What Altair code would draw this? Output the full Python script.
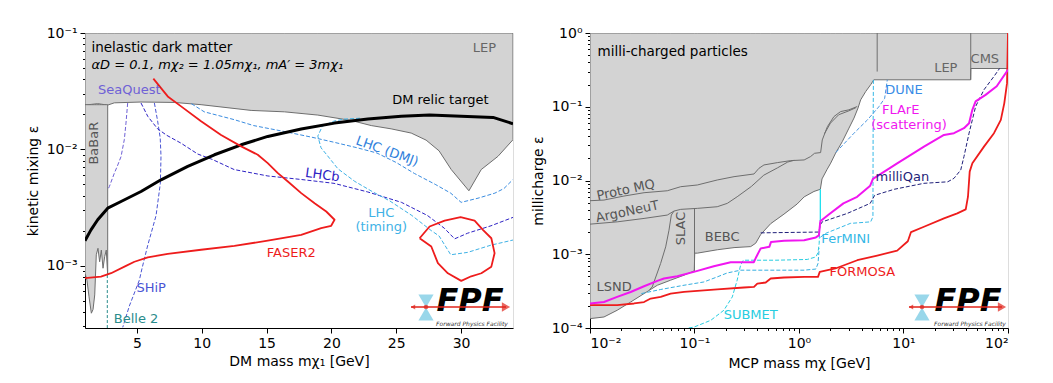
import altair as alt
import pandas as pd

FONT = "DejaVu Sans"
FILL = "#d3d3d3"
EDGE = "#6e6e6e"

# ======================= LEFT PANEL: inelastic dark matter =======================
L_X_DOMAIN = [1.0, 34.0]
L_Y_DOMAIN = [2.91e-4, 0.1]

LEP_X = [1.0, 1.98, 2.75, 3.26, 5.32, 7.89, 9.95, 13.81, 16.38, 18.95, 21.52, 23.07, 24.6,
         26.15, 27.3, 28.3, 29.24, 30.6, 31.55, 32.84, 34.0]
LEP_Y = [0.0240, 0.0247, 0.0240, 0.0251, 0.0255, 0.0253, 0.0242, 0.0216, 0.0210, 0.0197, 0.0177,
         0.0160, 0.0150, 0.0138, 0.0120, 0.0097, 0.0067, 0.0044, 0.0067, 0.0087, 0.0121]

BABAR_X = [1.0, 1.15, 1.31, 1.49, 1.62, 1.75, 1.87, 2.0, 2.13, 2.26, 2.39, 2.52, 2.64, 2.75]
BABAR_LO = [8.6e-4, 7.5e-4, 5.4e-4, 3.9e-4, 4.2e-4, 5.6e-4, 1.24e-3, 1.41e-3, 1.08e-3, 1.36e-3,
            9.5e-4, 1.2e-3, 1.36e-3, 8.3e-4]
BABAR_HI = 0.0242

RELIC_X = [1.0, 1.46, 1.98, 2.75, 3.78, 5.32, 6.86, 8.92, 10.98, 13.04, 15.09, 17.67, 20.24,
           22.81, 25.38, 27.57, 30.0, 32.46, 34.0]
RELIC_Y = [1.64e-3, 2.03e-3, 2.48e-3, 3.12e-3, 3.56e-3, 4.34e-3, 5.47e-3, 7.13e-3, 8.98e-3,
           0.01094, 0.01291, 0.01493, 0.0168, 0.0182, 0.0192, 0.0197, 0.0192, 0.0188, 0.0166]

FASER2_X = [6.27, 7.38, 8.41, 9.95, 11.49, 13.04, 14.32, 15.09, 15.87, 16.64, 17.67, 18.70, 19.60,
            20.24, 19.98, 19.21, 17.67, 15.09, 12.52, 9.95, 7.38, 5.84, 4.81, 4.16, 3.01, 2.23, 1.0]
FASER2_Y = [0.0405, 0.0285, 0.0234, 0.0174, 0.0133, 0.0106, 0.00898, 0.0076, 0.00624, 0.00529,
            0.0042, 0.00344, 0.00292, 0.00248, 0.0022, 0.0021, 0.00184, 0.00164, 0.00148, 0.00137,
            0.00126, 0.00118, 0.00108, 0.000995, 0.000861, 0.000806, 0.00078]

FASER2B_X = [26.8, 27.57, 28.73, 29.96, 31.04, 31.68, 32.33, 32.58, 32.33, 31.56, 30.78, 30.01,
             28.98, 28.21, 27.7, 26.8]
FASER2B_Y = [0.00172, 0.00217, 0.00244, 0.00261, 0.00244, 0.00203, 0.00172, 0.00128, 0.00098,
             0.00086, 0.00081, 0.00074, 0.00086, 0.00105, 0.00146, 0.00172]

SEAQ_X = [4.29, 4.16, 4.03, 3.78, 3.5, 3.26, 2.88, 2.75]
SEAQ_Y = [0.025, 0.0168, 0.0121, 0.00867, 0.0072, 0.00623, 0.00479, 0.00448]

SHIP_X = [6.35, 6.6, 6.8, 6.86, 6.81, 6.48, 6.1, 5.84, 5.4, 5.19, 4.42, 3.91]
SHIP_Y = [0.025, 0.0175, 0.0125, 0.0087, 0.0051, 0.0027, 0.0019, 0.0015, 0.00095, 0.00075,
          0.00045, 0.000295]

LHCB_X = [5.32, 5.84, 6.6, 7.3, 8.4, 9.7, 10.8, 12.5, 15.1, 17.7, 20.2, 22.8, 25.4, 27.4, 28.7,
          29.5, 30.5, 32.3, 34.0]
LHCB_Y = [0.025, 0.0192, 0.015, 0.0132, 0.0113, 0.0091, 0.0082, 0.0067, 0.0059, 0.0055, 0.0051,
          0.0043, 0.0035, 0.0027, 0.0021, 0.0017, 0.0019, 0.0022, 0.0026]

DMJ_X = [9.2, 10.2, 12.5, 14.0, 16.4, 18.5, 20.2, 22.0, 23.5, 25.0, 26.4, 28.0, 29.2, 30.0, 31.3,
         32.6, 33.3, 34.0]
DMJ_Y = [0.0247, 0.021, 0.018, 0.016, 0.0142, 0.0127, 0.0115, 0.0103, 0.0093, 0.0077, 0.0062,
         0.005, 0.0042, 0.0035, 0.0038, 0.0042, 0.0046, 0.0055]

TIMING_X = [22.2, 21.0, 20.2, 19.3, 18.95, 19.2, 19.7, 20.5, 21.8, 23.2, 24.5, 26.2, 27.7, 28.3,
            29.2, 30.5, 32.3, 34.0]
TIMING_Y = [0.0185, 0.0182, 0.0175, 0.0158, 0.013, 0.0103, 0.0088, 0.0068, 0.0053, 0.0043,
            0.0036, 0.0027, 0.0020, 0.0018, 0.00124, 0.0013, 0.0015, 0.00166]

BELLE2_X = [2.72, 2.72]
BELLE2_Y = [8.3e-4, 2.91e-4]

# label anchors (data coordinates)
L_LBL_X = {"title": 1.5, "params": 1.5, "LEP": 31.8, "SeaQuest": 4.42, "relic": 28.4,
           "BaBaR": 1.67, "DMJ": 24.3, "LHCb": 19.3, "LHC": 23.84, "timing": 23.84,
           "FASER2": 16.9, "SHiP": 6.1, "Belle 2": 4.94}
L_LBL_Y = {"title": 0.0743, "params": 0.0533, "LEP": 0.0743, "SeaQuest": 0.0321, "relic": 0.0267,
           "BaBaR": 0.0113, "DMJ": 0.0096, "LHCb": 0.0060, "LHC": 0.00282, "timing": 0.00213,
           "FASER2": 0.00128, "SHiP": 6.4e-4, "Belle 2": 3.48e-4}

# ======================= RIGHT PANEL: milli-charged particles =======================
R_X_DOMAIN = [0.01, 100.0]
R_Y_DOMAIN = [1e-4, 1.0]

ENV_X = [0.01, 0.0136, 0.0182, 0.0245, 0.0329, 0.0441, 0.0591, 0.0794, 0.0995, 0.1005, 0.1065,
         0.165, 0.239, 0.345, 0.385, 0.43, 0.536, 0.718, 0.96, 1.12, 1.39, 1.6, 1.66, 1.85, 2.01,
         2.24, 2.6, 3.01, 3.36, 3.67, 3.89, 4.35, 4.85, 5.2, 43.9, 44.1, 100.0]
ENV_Y = [1.34e-4, 1.41e-4, 1.74e-4, 2.25e-4, 2.93e-4, 3.8e-4, 4.45e-4, 5.2e-4, 5.96e-4, 1.035e-3,
         1.035e-3, 1.15e-3, 1.23e-3, 1.27e-3, 1.41e-3, 1.85e-3, 2.6e-3, 3.5e-3, 4.8e-3, 6.0e-3,
         7.1e-3, 7.6e-3, 0.0105, 0.014, 0.0172, 0.0235, 0.0338, 0.0514, 0.0703, 0.096, 0.124,
         0.161, 0.199, 0.232, 0.232, 0.33, 0.33]

PMQ_X = [0.01, 0.0136, 0.0211, 0.0329, 0.0549, 0.0738, 0.1064, 0.165, 0.239, 0.371, 0.414, 0.462,
         0.62, 0.833, 1.12, 1.29, 1.41, 1.61, 1.67, 1.87, 2.16, 2.5, 3.0, 3.61]
PMQ_Y = [5.32e-3, 5.43e-3, 6.15e-3, 6.83e-3, 7.26e-3, 8.24e-3, 8.69e-3, 0.01016, 0.01127, 0.01226,
         0.01465, 0.01625, 0.01747, 0.0186, 0.019, 0.0211, 0.0234, 0.0239, 0.0355, 0.0538,
         0.0736, 0.086, 0.0908, 0.1007]

ARG_X = [0.01, 0.0182, 0.0329, 0.0549, 0.0636, 0.0738, 0.1064, 0.165, 0.206, 0.256, 0.35, 0.46,
         0.62, 0.78, 0.9]
ARG_Y = [2.56e-3, 2.75e-3, 3.06e-3, 3.4e-3, 3.85e-3, 4.06e-3, 4.19e-3, 4.41e-3, 4.9e-3, 6.02e-3,
         8.3e-3, 0.0118, 0.0148, 0.0178, 0.0188]

SLIVER_X = [1.75, 2.0, 2.4, 3.0, 3.5]
SLIVER_Y = [0.043, 0.06, 0.078, 0.088, 0.097]

SLACD_X = [0.037, 0.0394, 0.0474, 0.053, 0.057, 0.06, 0.0636]
SLACD_Y = [3.3e-4, 3.6e-4, 7.5e-4, 1.26e-3, 2.12e-3, 3.4e-3, 3.85e-3]
SLACR_X = [0.1, 0.1]
SLACR_Y = [5.96e-4, 4.19e-3]

LEPV_X = [5.6, 5.6]
LEPV_Y = [0.30, 1.0]
CMSV_X = [44.0, 44.0]
CMSV_Y = [0.232, 1.0]

FLARE_X = [0.01, 0.0136, 0.0182, 0.0245, 0.0329, 0.0441, 0.051, 0.0685, 0.0986, 0.153, 0.222,
           0.37, 0.39, 0.43, 0.52, 0.54, 0.72, 1.12, 1.45, 1.55, 1.6, 1.9, 2.66, 3.6, 4.8, 5.1,
           8.7, 12.5, 15.7, 24.4, 30.4, 37.9, 42.4, 45.6, 49.0, 61.0, 78.0, 100.0]
FLARE_Y = [2.15e-4, 2.25e-4, 2.64e-4, 3.08e-4, 3.68e-4, 4.35e-4, 4.69e-4, 5.04e-4, 5.77e-4,
           6.89e-4, 7.81e-4, 7.81e-4, 9.2e-4, 1.2e-3, 1.26e-3, 1.47e-3, 1.52e-3, 1.55e-3, 1.69e-3,
           1.8e-3, 2.8e-3, 3.4e-3, 4.9e-3, 6.0e-3, 8.5e-3, 0.0105, 0.0171, 0.0235, 0.0288, 0.0415,
           0.0438, 0.0512, 0.0598, 0.0908, 0.118, 0.145, 0.19, 0.318]

FORMOSA_X = [0.01, 0.0182, 0.0264, 0.0329, 0.0381, 0.0475, 0.0591, 0.0794, 0.165, 0.297, 0.371,
             0.399, 0.48, 0.536, 0.72, 1.12, 1.52, 1.58, 2.23, 3.61, 5.6, 8.7, 11.0, 11.8, 15.7,
             24.4, 32.7, 39.4, 41.4, 43.0, 45.6, 58.9, 73.4, 85.4, 92.2, 97.9, 100.0]
FORMOSA_Y = [2.04e-4, 2.04e-4, 2.15e-4, 2.25e-4, 2.51e-4, 2.64e-4, 2.93e-4, 3.08e-4, 3.33e-4,
             3.54e-4, 3.6e-4, 4.0e-4, 4.14e-4, 4.69e-4, 4.84e-4, 4.93e-4, 4.93e-4, 5.77e-4,
             6.41e-4, 8.3e-4, 9.6e-4, 1.12e-3, 1.5e-3, 2.0e-3, 2.36e-3, 3.06e-3, 3.58e-3, 4.06e-3,
             6.03e-3, 0.0132, 0.0171, 0.0288, 0.0438, 0.0664, 0.112, 0.209, 1.0]

MQ_X = [0.43, 1.55, 1.6, 1.67, 2.9, 4.8, 5.3, 8.15, 15.7, 26.5, 30.4, 35.3, 37.9, 42.4, 49.0,
        58.9, 73.4, 83.0]
MQ_Y = [1.95e-3, 2.0e-3, 2.5e-3, 2.75e-3, 3.58e-3, 4.9e-3, 6.3e-3, 7.6e-3, 9.16e-3, 9.6e-3,
        0.0107, 0.0139, 0.0211, 0.0438, 0.1007, 0.17, 0.258, 0.33]

DUNE_X = [2.25, 3.36, 4.52, 5.81, 6.6, 7.0]
DUNE_Y = [0.024, 0.0438, 0.0664, 0.1, 0.13, 0.232]

SUBMET_X = [0.088, 0.099, 0.143, 0.191, 0.23, 0.256, 0.276, 0.293, 0.6, 1.2, 1.45, 1.52, 1.56,
            1.58]
SUBMET_Y = [1.0e-4, 1.03e-4, 1.27e-4, 1.74e-4, 2.64e-4, 4.45e-4, 7.1e-4, 8.3e-4, 8.3e-4, 8.5e-4,
            9.2e-4, 1.05e-3, 1.4e-3, 2.9e-3]

FERL_X = [0.031, 0.0475, 0.0794, 0.123, 0.165, 0.206, 0.276, 1.12, 1.45, 1.52, 1.56]
FERL_Y = [2.93e-4, 3.33e-4, 3.8e-4, 4.21e-4, 4.93e-4, 5.58e-4, 6.08e-4, 6.08e-4, 6.3e-4, 7.5e-4,
          1.2e-3]

FERU_X = [1.6, 1.8, 3.1, 4.85, 5.1, 5.12, 5.15]
FERU_Y = [1.7e-3, 1.92e-3, 2.62e-3, 2.75e-3, 3.22e-3, 0.05, 0.232]

FERS_X = [1.6, 1.6]
FERS_Y = [2.9e-3, 7.6e-3]

R_LBL_X = {"title": 0.0118, "Proto MQ": 0.022, "ArgoNeuT": 0.0228, "SLAC": 0.074, "BEBC": 0.184,
           "LSND": 0.017, "LEP": 25.4, "CMS": 60.0, "DUNE": 10.1, "FLArE": 9.4,
           "scattering": 11.3, "milliQan": 9.76, "FerMINI": 2.8, "FORMOSA": 4.04,
           "SUBMET": 0.345}
R_LBL_Y = {"title": 0.55, "Proto MQ": 7.4e-3, "ArgoNeuT": 3.77e-3, "SLAC": 2.24e-3, "BEBC": 1.69e-3,
           "LSND": 3.6e-4, "LEP": 0.334, "CMS": 0.443, "DUNE": 0.17, "FLArE": 0.091,
           "scattering": 0.0568, "milliQan": 0.0113, "FerMINI": 1.6e-3, "FORMOSA": 5.77e-4,
           "SUBMET": 1.49e-4}

# ======================= helpers =======================
SUP = {-4: "⁻⁴", -3: "⁻³", -2: "⁻²", -1: "⁻¹", 0: "⁰", 1: "¹", 2: "²"}
LOG = "(log(datum.value)/LN10)"
LABEL_EXPR = " : ".join(
    f"abs({LOG} - ({e})) < 0.001 ? '10{s}'" for e, s in SUP.items()) + " : ''"
DECADE_TEST = f"abs({LOG} - round({LOG})) < 0.001"


def log_ticks(lo, hi):
    vals = []
    for d in range(lo, hi):
        for m in range(1, 10):
            vals.append(m * 10.0 ** d)
    vals.append(10.0 ** hi)
    return vals


def log_axis(title, lo, hi, keep_min=None):
    vals = log_ticks(lo, hi)
    if keep_min is not None:
        vals = [v for v in vals if v >= keep_min]
    return alt.Axis(title=title, values=vals, labelExpr=LABEL_EXPR, labelOverlap=False,
                    tickSize={"condition": {"test": DECADE_TEST, "value": 5}, "value": 2.5},
                    grid=False, labelFontSize=14, titleFontSize=14, titleFontWeight="normal",
                    tickColor="black", domainColor="black", labelColor="black",
                    titleColor="black", labelPadding=3, titlePadding=6, labelFont=FONT,
                    titleFont=FONT)


def lin_axis(title, values):
    return alt.Axis(title=title, values=values, grid=False, tickSize=5, labelFontSize=14,
                    titleFontSize=14, titleFontWeight="normal", tickColor="black",
                    domainColor="black", labelColor="black", titleColor="black",
                    labelPadding=3, titlePadding=4, labelFont=FONT, titleFont=FONT)


def df_xy(xs, ys):
    return pd.DataFrame({"x": xs, "y": ys, "i": list(range(len(xs)))})


class Panel:
    def __init__(self, X, Y):
        self.X = X
        self.Y = Y
        self.layers = []

    def area(self, xs, lo, hi, fill=FILL, stroke=EDGE):
        d = pd.DataFrame({"x": xs, "y": lo, "y2": hi if isinstance(hi, list) else [hi] * len(xs)})
        self.layers.append(alt.Chart(d).mark_area(color=fill, stroke=stroke, strokeWidth=1,
                                                  clip=True, interpolate="linear")
                           .encode(x=self.X, y=self.Y, y2="y2:Q"))

    def line(self, xs, ys, color, width=1.0, dash=None):
        kw = dict(color=color, strokeWidth=width, clip=True, strokeJoin="round")
        if dash:
            kw["strokeDash"] = dash
        self.layers.append(alt.Chart(df_xy(xs, ys)).mark_line(**kw)
                           .encode(x=self.X, y=self.Y, order="i:Q"))

    def text(self, t, x, y, color, size=13, angle=0, align="center", style="normal"):
        d = pd.DataFrame({"x": [x], "y": [y], "t": [t]})
        self.layers.append(alt.Chart(d).mark_text(color=color, fontSize=size, angle=angle,
                                                  align=align, baseline="middle", font=FONT,
                                                  fontStyle=style)
                           .encode(x=self.X, y=self.Y, text="t:N"))

    def logo(self, cx, a0, a1, bx, yc):
        base = alt.Chart(pd.DataFrame({"k": [0]}))
        red = "#e0241b"
        self.layers += [
            base.mark_point(shape="triangle-down", filled=True, color="#8ed3e8", opacity=0.9,
                            size=230, strokeWidth=0)
                .encode(x=alt.value(bx), y=alt.value(yc - 6)),
            base.mark_point(shape="triangle-up", filled=True, color="#8ed3e8", opacity=0.9,
                            size=230, strokeWidth=0)
                .encode(x=alt.value(bx), y=alt.value(yc + 7)),
            base.mark_text(text="FPF", font=FONT, fontSize=32, fontWeight="bold",
                           fontStyle="italic", color="black", baseline="middle")
                .encode(x=alt.value(cx), y=alt.value(yc - 6)),
            base.mark_text(text="Forward Physics Facility", font=FONT, fontSize=6,
                           fontStyle="italic", color="#333", baseline="middle")
                .encode(x=alt.value(cx + 2), y=alt.value(yc + 17)),
            base.mark_rule(color=red, strokeWidth=1.5)
                .encode(x=alt.value(a0), x2=alt.value(a1 - 4), y=alt.value(yc)),
            base.mark_point(shape="triangle-right", filled=True, color=red, size=90,
                            strokeWidth=0).encode(x=alt.value(a1 - 4), y=alt.value(yc)),
            base.mark_point(shape="triangle-left", filled=True, color=red, size=25,
                            strokeWidth=0).encode(x=alt.value(a0 + 2), y=alt.value(yc)),
            base.mark_point(shape="circle", filled=True, color=red, size=22, strokeWidth=0)
                .encode(x=alt.value(bx), y=alt.value(yc)),
        ]

    def chart(self, w, h):
        return alt.layer(*self.layers).properties(width=w, height=h)


# ======================= build left =======================
XL = alt.X("x:Q", scale=alt.Scale(domain=L_X_DOMAIN, nice=False, zero=False),
           axis=lin_axis("DM mass mχ₁ [GeV]", [5, 10, 15, 20, 25, 30]))
YL = alt.Y("y:Q", scale=alt.Scale(type="log", domain=L_Y_DOMAIN, nice=False),
           axis=log_axis("kinetic mixing ε", -4, -1, keep_min=3e-4))
L = Panel(XL, YL)
L.area(LEP_X, LEP_Y, 0.1)
L.area(BABAR_X, BABAR_LO, BABAR_HI)
L.line(SEAQ_X, SEAQ_Y, "#6f61d6", 1.0, [4, 2])
L.line(SHIP_X, SHIP_Y, "#4a55d4", 1.0, [4, 2])
L.line(LHCB_X, LHCB_Y, "#2d22c4", 1.0, [4, 2])
L.line(DMJ_X, DMJ_Y, "#3a8ce0", 1.0, [4, 2])
L.line(TIMING_X, TIMING_Y, "#3fb2e6", 1.0, [4, 2])
L.line(BELLE2_X, BELLE2_Y, "#2a8c8c", 1.0, [3, 2])
L.line(RELIC_X, RELIC_Y, "black", 3.0)
L.line(FASER2_X, FASER2_Y, "#ee1c1c", 1.8)
L.line(FASER2B_X, FASER2B_Y, "#ee1c1c", 1.8)
L.text("inelastic dark matter", L_LBL_X["title"], L_LBL_Y["title"], "black", 13.5, align="left")
L.text("αD = 0.1, mχ₂ = 1.05mχ₁, mA′ = 3mχ₁", L_LBL_X["params"], L_LBL_Y["params"], "black",
       13, align="left", style="italic")
L.text("LEP", L_LBL_X["LEP"], L_LBL_Y["LEP"], "#666666")
L.text("SeaQuest", L_LBL_X["SeaQuest"], L_LBL_Y["SeaQuest"], "#6f61d6")
L.text("DM relic target", L_LBL_X["relic"], L_LBL_Y["relic"], "black")
L.text("BaBaR", L_LBL_X["BaBaR"], L_LBL_Y["BaBaR"], "#555555", angle=270)
L.text("LHC (DMJ)", L_LBL_X["DMJ"], L_LBL_Y["DMJ"], "#2f7fdc", angle=20)
L.text("LHCb", L_LBL_X["LHCb"], L_LBL_Y["LHCb"], "#2d22c4", angle=8)
L.text("LHC", L_LBL_X["LHC"], L_LBL_Y["LHC"], "#3fb2e6")
L.text("(timing)", L_LBL_X["timing"], L_LBL_Y["timing"], "#3fb2e6")
L.text("FASER2", L_LBL_X["FASER2"], L_LBL_Y["FASER2"], "#ee1c1c")
L.text("SHiP", L_LBL_X["SHiP"], L_LBL_Y["SHiP"], "#4a55d4")
L.text("Belle 2", L_LBL_X["Belle 2"], L_LBL_Y["Belle 2"], "#2a8c8c")
L.logo(385, 326, 425, 341, 274)
left = L.chart(428, 295)

# ======================= build right =======================
XR = alt.X("x:Q", scale=alt.Scale(type="log", domain=R_X_DOMAIN, nice=False),
           axis=log_axis("MCP mass mχ [GeV]", -2, 2))
YR = alt.Y("y:Q", scale=alt.Scale(type="log", domain=R_Y_DOMAIN, nice=False),
           axis=log_axis("millicharge ε", -4, 0))
R = Panel(XR, YR)
R.area(ENV_X, ENV_Y, 1.0)
R.line(PMQ_X, PMQ_Y, EDGE, 1.0)
R.line(ARG_X, ARG_Y, EDGE, 1.0)
R.line(SLIVER_X, SLIVER_Y, EDGE, 1.0)
R.line(SLACD_X, SLACD_Y, EDGE, 1.0)
R.line(SLACR_X, SLACR_Y, EDGE, 1.0)
R.line(LEPV_X, LEPV_Y, EDGE, 1.0)
R.line(CMSV_X, CMSV_Y, EDGE, 1.0)
R.line(SUBMET_X, SUBMET_Y, "#27cde0", 1.0, [4, 2])
R.line(FERL_X, FERL_Y, "#35aee0", 1.0, [4, 2])
R.line(FERU_X, FERU_Y, "#35b8e6", 1.0, [4, 2])
R.line(FERS_X, FERS_Y, "#1fe0ee", 1.3)
R.line(DUNE_X, DUNE_Y, "#4a96e0", 1.0, [4, 2])
R.line(MQ_X, MQ_Y, "#1f1f7a", 1.0, [4, 2])
R.line(FORMOSA_X, FORMOSA_Y, "#ee1c1c", 1.8)
R.line(FLARE_X, FLARE_Y, "#f016f0", 2.0)
R.text("milli-charged particles", R_LBL_X["title"], R_LBL_Y["title"], "black", 13.5, align="left")
R.text("Proto MQ", R_LBL_X["Proto MQ"], R_LBL_Y["Proto MQ"], "#555555", angle=348)
R.text("ArgoNeuT", R_LBL_X["ArgoNeuT"], R_LBL_Y["ArgoNeuT"], "#555555", angle=348)
R.text("SLAC", R_LBL_X["SLAC"], R_LBL_Y["SLAC"], "#555555", angle=270)
R.text("BEBC", R_LBL_X["BEBC"], R_LBL_Y["BEBC"], "#555555")
R.text("LSND", R_LBL_X["LSND"], R_LBL_Y["LSND"], "#555555")
R.text("LEP", R_LBL_X["LEP"], R_LBL_Y["LEP"], "#666666")
R.text("CMS", R_LBL_X["CMS"], R_LBL_Y["CMS"], "#666666")
R.text("DUNE", R_LBL_X["DUNE"], R_LBL_Y["DUNE"], "#3a8ce6")
R.text("FLArE", R_LBL_X["FLArE"], R_LBL_Y["FLArE"], "#f016f0")
R.text("(scattering)", R_LBL_X["scattering"], R_LBL_Y["scattering"], "#f016f0")
R.text("milliQan", R_LBL_X["milliQan"], R_LBL_Y["milliQan"], "#1f1f7a")
R.text("FerMINI", R_LBL_X["FerMINI"], R_LBL_Y["FerMINI"], "#35b8e6")
R.text("FORMOSA", R_LBL_X["FORMOSA"], R_LBL_Y["FORMOSA"], "#ee1c1c")
R.text("SUBMET", R_LBL_X["SUBMET"], R_LBL_Y["SUBMET"], "#27cde0")
R.logo(378, 319, 416, 332, 274)
right = R.chart(418, 295)

chart = (alt.hconcat(left, right, spacing=16)
         .properties(padding={"left": 17, "top": 17, "right": 5, "bottom": 5})
         .configure_view(stroke="black", strokeWidth=1)
         .configure(background="white"))

chart.save("out.html", embed_options={"renderer": "svg", "actions": False})
